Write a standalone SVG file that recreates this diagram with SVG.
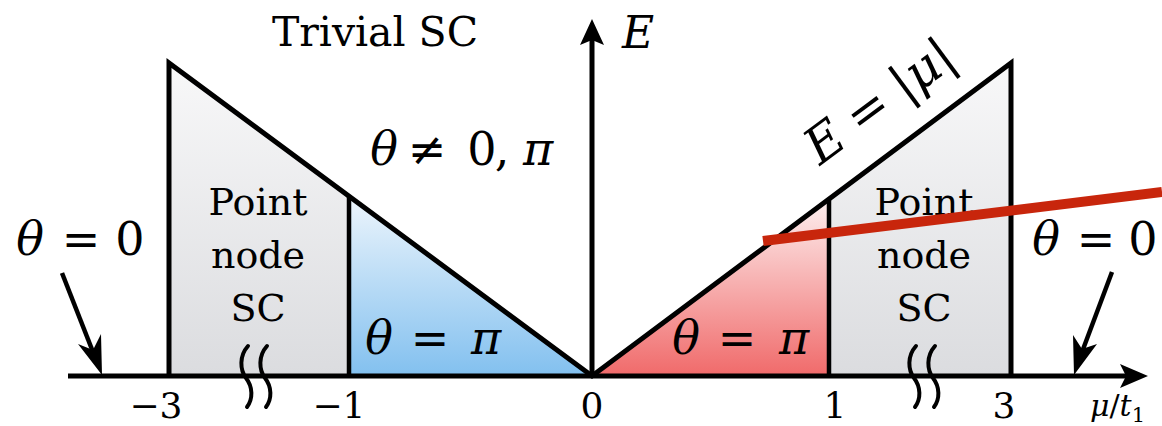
<svg xmlns="http://www.w3.org/2000/svg" width="1162" height="426" viewBox="0 0 1162 426">
<style>
text{font-family:"DejaVu Serif",serif;fill:#000}
.it{font-style:italic}
.lbl{font-size:38px;text-anchor:middle}
.m{font-size:46px;text-anchor:middle}
.tick{font-size:36px;text-anchor:middle}
.edge{fill:none;stroke:#000;stroke-width:5;stroke-linejoin:miter}
.div{stroke:#000;stroke-width:4.5}
.sq{fill:none;stroke:#000;stroke-width:4;stroke-linecap:round}
</style>
<defs>
<linearGradient id="gGray" x1="0" y1="62" x2="0" y2="376" gradientUnits="userSpaceOnUse">
<stop offset="0" stop-color="#f8f8f9"/><stop offset="1" stop-color="#dbdcdf"/>
</linearGradient>
<linearGradient id="gBlue" x1="0" y1="196" x2="0" y2="376" gradientUnits="userSpaceOnUse">
<stop offset="0" stop-color="#edf5fc"/><stop offset="1" stop-color="#82c0ef"/>
</linearGradient>
<linearGradient id="gRed" x1="0" y1="201" x2="0" y2="376" gradientUnits="userSpaceOnUse">
<stop offset="0" stop-color="#fdeeee"/><stop offset="1" stop-color="#f06a6a"/>
</linearGradient>
</defs>

<g id="left-point-node">
<polygon points="169,63 349,196 349,376 169,376" fill="url(#gGray)"/>
<text class="lbl" x="258" y="215">Point</text>
<text class="lbl" x="258" y="268">node</text>
<text class="lbl" x="258" y="321">SC</text>
</g>
<g id="left-pi">
<polygon points="349,196 592,376 349,376" fill="url(#gBlue)"/>
<text class="m" y="354"><tspan class="it" x="379">θ</tspan><tspan x="430">=</tspan><tspan class="it" x="486">π</tspan></text>
</g>
<g id="right-pi">
<polygon points="592,376 829,200 829,376" fill="url(#gRed)"/>
<text class="m" y="354"><tspan class="it" x="686">θ</tspan><tspan x="737">=</tspan><tspan class="it" x="794">π</tspan></text>
</g>
<g id="right-point-node">
<polygon points="829,200 1011,63 1011,376 829,376" fill="url(#gGray)"/>
<text class="lbl" x="924" y="215">Point</text>
<text class="lbl" x="924" y="268">node</text>
<text class="lbl" x="924" y="321">SC</text>
</g>

<g id="outlines">
<polyline class="edge" points="169,376 169,63 592,376 1011,63 1011,376"/>
<line class="div" x1="349" y1="196" x2="349" y2="376"/>
<line class="div" x1="829" y1="200" x2="829" y2="376"/>
</g>

<g id="trivial-sc">
<text x="272" y="46" style="font-size:41px" textLength="206">Trivial SC</text>
</g>
<g id="not-trivial">
<text class="m" y="165"><tspan class="it" x="384">θ</tspan><tspan x="427">≠</tspan><tspan x="482">0</tspan><tspan x="502">,</tspan><tspan class="it" x="538">π</tspan></text>
</g>

<g id="label-e-mu">
<text transform="translate(820,166) rotate(-36.5)" style="font-size:50px"><tspan class="it">E</tspan><tspan dx="14">=</tspan><tspan dx="14">|</tspan><tspan class="it">μ</tspan><tspan>|</tspan></text>
</g>

<g id="left-theta0">
<text class="m" y="255"><tspan class="it" x="30">θ</tspan><tspan x="81">=</tspan><tspan x="130">0</tspan></text>
</g>
<g id="right-theta0">
<text class="m" y="255"><tspan class="it" x="1046">θ</tspan><tspan x="1096">=</tspan><tspan x="1143">0</tspan></text>
</g>

<g id="connectors">
<line x1="68" y1="376" x2="1126" y2="376" stroke="#000" stroke-width="5"/>
<path d="M1148,376 L1120,364 L1126,376 L1120,388 Z" fill="#000"/>
<line x1="592" y1="378" x2="592" y2="40" stroke="#000" stroke-width="5"/>
<path d="M592,19 L580,45 L592,40 L604,45 Z" fill="#000"/>
<line x1="62" y1="273" x2="93" y2="352" stroke="#000" stroke-width="4.5"/>
<path d="M102,375 L78,344 L93,350 L101,334 Z" fill="#000"/>
<line x1="1112" y1="272" x2="1082" y2="352" stroke="#000" stroke-width="4.5"/>
<path d="M1074,375 L1073,335 L1082,349 L1097,344 Z" fill="#000"/>
<line x1="763" y1="241" x2="1162" y2="192" stroke="#c8260c" stroke-width="10"/>
</g>

<g id="breaks">
<path class="sq" d="M248,346 C239,356 240,370 246,378 C253,387 253,399 247,407"/>
<path class="sq" d="M267,346 C258,356 259,370 265,378 C272,387 272,399 266,407"/>
<path class="sq" d="M916,346 C907,356 908,370 914,378 C921,387 921,399 915,407"/>
<path class="sq" d="M935,346 C926,356 927,370 933,378 C940,387 940,399 934,407"/>
</g>

<g id="axis-labels">
<text class="tick" x="156" y="418">−3</text>
<text class="tick" x="339" y="418">−1</text>
<text class="tick" x="592" y="418">0</text>
<text class="tick" x="835" y="418">1</text>
<text class="tick" x="1004" y="418">3</text>
<text x="1090" y="416" style="font-size:30px"><tspan class="it">μ</tspan>/<tspan class="it">t</tspan><tspan dy="6" style="font-size:21px">1</tspan></text>
<text x="622" y="48" class="it" style="font-size:44px">E</text>
</g>
</svg>
